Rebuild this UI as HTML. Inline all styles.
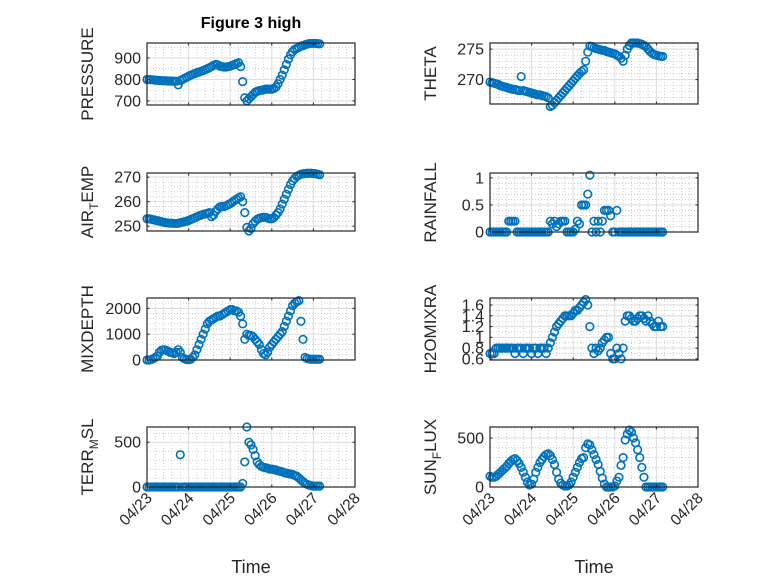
<!DOCTYPE html>
<html><head><meta charset="utf-8"><style>
html,body{margin:0;padding:0;background:#fff}
svg{display:block;font-family:"Liberation Sans","DejaVu Sans",sans-serif}
</style></head><body>
<svg id="fig" width="778" height="583" viewBox="0 0 778 583">
<rect x="0" y="0" width="778" height="583" fill="#fff"/>
<text x="251" y="28" text-anchor="middle" font-size="16" font-weight="bold" fill="#000">Figure 3 high</text>
<text x="251" y="573" text-anchor="middle" font-size="18" fill="#262626">Time</text>
<text x="594" y="573" text-anchor="middle" font-size="18" fill="#262626">Time</text>
</svg>
<script>
const xTickLabels = ["04/23","04/24","04/25","04/26","04/27","04/28"];
const timeStepDays = 0.05;
const pressure = [800,800,799,798,797,796,795,795,794,794, 793,793,792,792,792,775,795,800,805,810, 815,820,824,828,832,835,838,842,846,850, 855,860,866,870,868,862,860,858,858,860, 862,866,870,874,878,860,790,715,700,710, 720,730,740,745,748,750,752,755,755,755, 755,758,765,780,800,820,845,870,895,915, 930,940,945,950,955,958,962,965,967,968, 968,968,967,966];
const airTemp = [253,253,252.8,252.6,252.4,252.2,252,251.8,251.6,251.4, 251.3,251.2,251.2,251.1,251.1,251.2,251.4,251.6,251.8,252, 252.3,252.7,253,253.4,253.8,254.2,254.5,254.8,255,255.2, 255.5,253.8,254.5,256,257,257.8,258,258,258.3,258.8, 259.2,259.8,260.4,261,261.5,262,260,255.5,249.5,248, 249,251,252,252.8,253.2,253.5,253.6,253.6,253.3,253, 253,253.5,254.5,255.5,257,259,261,263,265,267, 268.5,269.5,270.3,270.8,271.2,271.4,271.5,271.6,271.6,271.6, 271.5,271.4,271.2,271];
const mixDepth = [0,0,20,50,100,150,300,380,400,380, 350,300,280,250,300,400,300,100,50,20, 10,30,100,200,400,600,800,1000,1200,1400, 1500,1550,1600,1650,1700,1700,1750,1800,1850,1900, 1950,1950,1900,1900,1850,1700,1400,800,1000,950, 950,900,800,700,600,400,250,200,300,500, 600,700,800,900,1000,1100,1300,1500,1700,1900, 2100,2200,2250,2300,1500,800,100,60,40,30, 30,30,30,30];
const terrMsl = [0,0,0,0,0,0,0,0,0,0, 0,0,0,0,0,0,360,0,0,0, 0,0,0,0,0,0,0,0,0,0, 0,0,0,0,0,0,0,0,0,0, 0,0,0,0,0,0,40,280,670,500, 470,420,350,280,250,230,220,215,210,200, 200,195,190,180,175,170,160,155,150,145, 140,130,120,100,80,60,40,30,20,15, 10,10,10,10];
const theta = [269.6,269.5,269.4,269.3,269.2,269,268.9,268.8,268.7,268.6, 268.5,268.4,268.4,268.3,268.2,270.5,268.2,268.1,268,267.9, 267.8,267.7,267.6,267.5,267.5,267.4,267.3,267.2,267,265.6, 265.8,266.2,266.6,267,267.4,267.8,268.2,268.6,269,269.4, 269.8,270.2,270.6,271,271.3,271.6,273,274.5,275.5,275.4, 275.2,275.1,275,274.9,274.8,274.8,274.6,274.5,274.4,274.3, 274.2,274,273.8,273.5,273,274,275,275.6,276,276, 276,276,275.9,275.8,275.6,275.4,275,274.6,274.3,274.1, 274,273.9,273.8,273.8];
const rainfall = [0,0,0,0,0,0,0,0,0,0.2, 0.2,0.2,0.2,0,0,0,0,0,0,0, 0,0,0,0,0,0,0,0,0,0.2, 0.15,0.2,0.1,0.15,0.2,0.2,0.2,0,0,0, 0,0.05,0.2,0.15,0.5,0.5,0.5,0.7,1.05,0, 0.2,0,0.2,0,0.2,0.4,0.4,0.4,0.3,0, 0,0.4,0,0,0,0,0,0,0,0, 0,0,0,0,0,0,0,0,0,0, 0,0,0,0];
const h2oMixRa = [.7,.7,.7,.8,.8,.8,.8,.8,.8,.8, .8,.8,.7,.8,.8,.8,.7,.8,.8,.8, .7,.8,.8,.7,.8,.8,.8,.7,.8,.9, 1.0,1.1,1.2,1.25,1.3,1.35,1.4,1.4,1.4,1.4, 1.45,1.5,1.5,1.55,1.6,1.65,1.7,1.6,1.2,0.8, 0.7,0.8,0.75,0.8,0.9,0.95,1.0,1.0,0.7,0.6, 0.6,0.8,0.7,0.6,0.8,1.3,1.4,1.4,1.35,1.3, 1.3,1.35,1.4,1.4,1.35,1.3,1.4,1.3,1.25,1.2, 1.2,1.3,1.2,1.2];
const sunFlux = [110,100,100,110,130,150,170,190,210,240, 260,280,290,270,240,200,150,100,50,20, 30,80,150,200,250,280,310,330,340,320, 280,230,150,80,40,20,10,10,20,50, 100,150,200,250,290,300,400,440,430,380, 330,280,230,160,90,30,0,0,0,0, 10,60,100,220,300,480,540,580,560,500, 450,380,300,200,100,0,0,0,0,0, 0,0,0,0];

const pressureTicks = [700,800,900];
const airTempTicks = [250,260,270];
const mixDepthTicks = [0,1000,2000];
const terrMslTicks = [0,500];
const thetaTicks = [270,275];
const rainfallTicks = [0,0.5,1];
const h2oTicks = [0.6,0.8,1,1.2,1.4,1.6];
const sunFluxTicks = [0,500];

const NS = "http://www.w3.org/2000/svg";
const svg = document.getElementById('fig');
function mk(tag, attrs, parent){const e=document.createElementNS(NS,tag);for(const k in attrs)e.setAttribute(k,attrs[k]);(parent||svg).appendChild(e);return e;}

const panels = [
 {key:'pressure', label:['PRESSURE'], data:pressure, ticks:pressureTicks, ymin:681, ymax:970, minorY:50, x:147, y:43, h:62, bottom:false},
 {key:'air-temp', label:['AIR','T','EMP'], data:airTemp, ticks:airTempTicks, ymin:248, ymax:271.7, minorY:2, x:147, y:173, h:58, bottom:false},
 {key:'mixdepth', label:['MIXDEPTH'], data:mixDepth, ticks:mixDepthTicks, ymin:0, ymax:2400, minorY:200, x:147, y:298, h:62, bottom:false},
 {key:'terr-msl', label:['TERR','M','SL'], data:terrMsl, ticks:terrMslTicks, ymin:0, ymax:670, minorY:100, x:147, y:427, h:60, bottom:true},
 {key:'theta', label:['THETA'], data:theta, ticks:thetaTicks, ymin:266, ymax:276, minorY:1, x:490, y:43, h:61, bottom:false},
 {key:'rainfall', label:['RAINFALL'], data:rainfall, ticks:rainfallTicks, ymin:0, ymax:1.09, minorY:0.1, x:490, y:173, h:59, bottom:false},
 {key:'h2omixra', label:['H2OMIXRA'], data:h2oMixRa, ticks:h2oTicks, ymin:0.58, ymax:1.73, minorY:0.1, x:490, y:298, h:62, bottom:false},
 {key:'sun-flux', label:['SUN','F','LUX'], data:sunFlux, ticks:sunFluxTicks, ymin:0, ymax:612, minorY:100, x:490, y:427, h:60, bottom:true},
];
const W = 208, ND = 5;

panels.forEach(p=>{
  const g = mk('g',{});
  
  
  const xs = d => p.x + d/ND*W;
  const ys = v => p.y + p.h - (v-p.ymin)/(p.ymax-p.ymin)*p.h;
  mk('rect',{x:p.x,y:p.y,width:W,height:p.h,fill:'#fff'},g);
  for(let d=0; d<ND; d+=0.2){ if(Math.abs(d-Math.round(d))<1e-6) continue;
    mk('line',{x1:xs(d),x2:xs(d),y1:p.y,y2:p.y+p.h,stroke:'#bbb','stroke-width':0.7,'stroke-dasharray':'1,2'},g);}
  for(let v=Math.ceil(p.ymin/p.minorY)*p.minorY; v<p.ymax; v+=p.minorY){
    mk('line',{x1:p.x,x2:p.x+W,y1:ys(v),y2:ys(v),stroke:'#bbb','stroke-width':0.7,'stroke-dasharray':'1,2'},g);}
  for(let d=1; d<ND; d++) mk('line',{x1:xs(d),x2:xs(d),y1:p.y,y2:p.y+p.h,stroke:'#ddd','stroke-width':1},g);
  p.ticks.forEach(v=>{ mk('line',{x1:p.x,x2:p.x+W,y1:ys(v),y2:ys(v),stroke:'#ddd','stroke-width':1},g);});
  const clip = mk('g',{},g);
  
  
  p.data.forEach((v,i)=>{
    const c = mk('circle',{cx:xs(i*timeStepDays),cy:ys(v),r:3.8,fill:'none',stroke:'#0072BD','stroke-width':1.6},clip);
    
    
  });
  mk('rect',{x:p.x,y:p.y,width:W,height:p.h,fill:'none',stroke:'#262626','stroke-width':1.2},g);
  for(let d=0; d<=ND; d++){
    mk('line',{x1:xs(d),x2:xs(d),y1:p.y+p.h,y2:p.y+p.h-2.5,stroke:'#262626'},g);
    mk('line',{x1:xs(d),x2:xs(d),y1:p.y,y2:p.y+2.5,stroke:'#262626'},g);
    if(p.bottom){
      const tx = xs(d)+6, ty = p.y+p.h+12;
      const t = mk('text',{x:tx,y:ty,'text-anchor':'end','font-size':15.5,fill:'#262626',transform:`rotate(-45 ${tx} ${ty})`},g);
      t.textContent = xTickLabels[d];
      
      
    }
  }
  p.ticks.forEach(v=>{
    mk('line',{x1:p.x,x2:p.x+2.5,y1:ys(v),y2:ys(v),stroke:'#262626'},g);
    mk('line',{x1:p.x+W,x2:p.x+W-2.5,y1:ys(v),y2:ys(v),stroke:'#262626'},g);
    const t = mk('text',{x:p.x-6,y:ys(v)+5.5,'text-anchor':'end','font-size':16,fill:'#262626'},g);
    t.textContent = String(v);
    
    
  });
  const lx = p.x - 54, ly = p.y + p.h/2;
  const yl = mk('text',{x:lx,y:ly,'text-anchor':'middle','font-size':17,fill:'#262626',transform:`rotate(-90 ${lx} ${ly})`},g);
  
  
  if(p.label.length===1){ yl.textContent = p.label[0]; }
  else {
    const a = mk('tspan',{},yl); a.textContent = p.label[0];
    const b = mk('tspan',{'font-size':12,dy:5},yl); b.textContent = p.label[1];
    const c = mk('tspan',{dy:-5},yl); c.textContent = p.label[2];
  }
});
</script>
</body></html>
